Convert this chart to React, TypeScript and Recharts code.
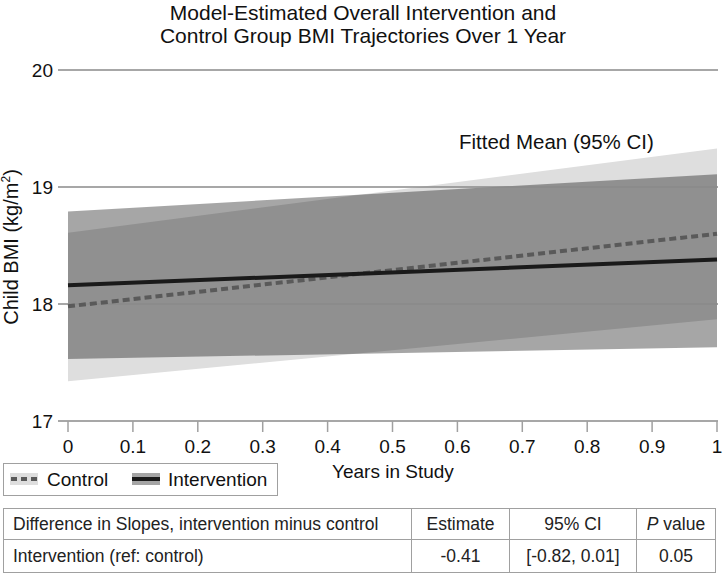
import { ComposedChart, Area, Line, XAxis, YAxis, ReferenceLine } from 'recharts';

const years = [0, 1];
const controlMean = [17.98, 18.6];
const controlLow = [17.34, 17.87];
const controlHigh = [18.61, 19.33];
const interventionMean = [18.16, 18.38];
const interventionLow = [17.53, 17.63];
const interventionHigh = [18.79, 19.11];

const xTicks = [0, 0.1, 0.2, 0.3, 0.4, 0.5, 0.6, 0.7, 0.8, 0.9, 1];
const yTicks = [17, 18, 19, 20];

const tableHeader = ['Difference in Slopes, intervention minus control', 'Estimate', '95% CI', 'value'];
const tableRow = ['Intervention (ref: control)', '-0.41', '[-0.82, 0.01]', '0.05'];

const font = '"Liberation Sans", Arial, sans-serif';

// x tick labels sit a bit lower than recharts puts them
function XTick({ x, y, payload }: any) {
    return (
        <text x={x} y={y + 6} dy="0.71em" textAnchor="middle" fill="#111" fontSize={19} fontFamily={font}>
            {payload.value}
        </text>
    );
}

export default function App() {
    const data = years.map((year, i) => ({
        year,
        ctrlBand: [controlLow[i], controlHigh[i]],
        intBand: [interventionLow[i], interventionHigh[i]],
        ctrl: controlMean[i],
        int: interventionMean[i],
    }));

    const cell = { border: '1.5px solid #a0a0a0', padding: '0 0 0 9px', boxSizing: 'border-box' } as const;
    const mid = { ...cell, padding: 0, textAlign: 'center' } as const;

    return (
        <div style={{ position: 'absolute', left: 0, top: 0, width: 726, height: 575, background: '#fff', fontFamily: font, color: '#111' }}>
            <div style={{ position: 'absolute', left: 0, top: 1, width: 726, textAlign: 'center', fontSize: 21, lineHeight: '23px' }}>
                Model-Estimated Overall Intervention and<br />Control Group BMI Trajectories Over 1 Year
            </div>

            <ComposedChart width={726} height={470} data={data} margin={{ top: 70, right: 8, left: 0, bottom: 0 }}>
                <XAxis
                    dataKey="year"
                    type="number"
                    domain={[0, 1]}
                    ticks={xTicks}
                    padding={{ left: 10, right: 1 }}
                    axisLine={false}
                    tickLine={{ stroke: '#a0a0a0', strokeWidth: 1.5 }}
                    tickSize={11}
                    tickMargin={2}
                    tick={<XTick />}
                    height={49}
                />
                <YAxis
                    type="number"
                    domain={[17, 20]}
                    ticks={yTicks}
                    axisLine={false}
                    tickLine={false}
                    tickSize={3}
                    tickMargin={2}
                    tick={{ fill: '#111', fontSize: 19, fontFamily: font }}
                    width={58}
                />
                <Area dataKey="ctrlBand" type="linear" stroke="none" fill="#dedede" fillOpacity={1} isAnimationActive={false} />
                <Area dataKey="intBand" type="linear" stroke="none" fill="#000" fillOpacity={0.35} isAnimationActive={false} />
                {yTicks.map(t => (
                    <ReferenceLine key={t} y={t} stroke="#8a8a8a" strokeWidth={1.5} />
                ))}
                <Line dataKey="ctrl" type="linear" stroke="#5a5a5a" strokeWidth={4} strokeDasharray="7 4" dot={false} isAnimationActive={false} />
                <Line dataKey="int" type="linear" stroke="#1a1a1a" strokeWidth={4} dot={false} isAnimationActive={false} />
            </ComposedChart>

            <div style={{ position: 'absolute', left: 459, top: 131, fontSize: 20.5, lineHeight: '22px' }}>Fitted Mean (95% CI)</div>

            <div style={{ position: 'absolute', left: 0, top: 247, width: 0, height: 0 }}>
                <div style={{ position: 'absolute', left: 11, top: 0, transform: 'translate(-50%, -50%) rotate(-90deg)', whiteSpace: 'nowrap', fontSize: 20, lineHeight: '22px' }}>
                    Child BMI (kg/m<sup style={{ fontSize: 12, verticalAlign: 'top', lineHeight: '12px' }}>2</sup>)
                </div>
            </div>

            <div style={{ position: 'absolute', left: 332, top: 461, fontSize: 19, lineHeight: '22px' }}>Years in Study</div>

            <div style={{ position: 'absolute', left: 3, top: 463, width: 275, height: 33, boxSizing: 'border-box', border: '1.5px solid #a0a0a0', fontSize: 19 }}>
                <svg width={29} height={13} style={{ position: 'absolute', left: 6, top: 8.5 }}>
                    <rect x={0} y={0} width={28} height={12} fill="#dedede" />
                    <line x1={1} x2={28} y1={6} y2={6} stroke="#5a5a5a" strokeWidth={4} strokeDasharray="6 4" />
                </svg>
                <span style={{ position: 'absolute', left: 43, top: 5, lineHeight: '22px' }}>Control</span>
                <svg width={29} height={13} style={{ position: 'absolute', left: 128, top: 8.5 }}>
                    <rect x={0} y={0} width={28} height={12} fill="#a5a5a5" />
                    <line x1={0} x2={28} y1={6} y2={6} stroke="#1a1a1a" strokeWidth={4} />
                </svg>
                <span style={{ position: 'absolute', left: 164, top: 5, lineHeight: '22px' }}>Intervention</span>
            </div>

            <table style={{ position: 'absolute', left: 3, top: 508, width: 712, borderCollapse: 'collapse', tableLayout: 'fixed', fontSize: 17.5, color: '#222' }}>
                <colgroup>
                    <col style={{ width: 408 }} />
                    <col style={{ width: 98 }} />
                    <col style={{ width: 127 }} />
                    <col style={{ width: 79 }} />
                </colgroup>
                <tbody>
                    <tr style={{ height: 31 }}>
                        <td style={cell}>{tableHeader[0]}</td>
                        <td style={mid}>{tableHeader[1]}</td>
                        <td style={mid}>{tableHeader[2]}</td>
                        <td style={mid}><i>P</i> {tableHeader[3]}</td>
                    </tr>
                    <tr style={{ height: 33 }}>
                        <td style={cell}>{tableRow[0]}</td>
                        <td style={mid}>{tableRow[1]}</td>
                        <td style={mid}>{tableRow[2]}</td>
                        <td style={mid}>{tableRow[3]}</td>
                    </tr>
                </tbody>
            </table>
        </div>
    );
}
